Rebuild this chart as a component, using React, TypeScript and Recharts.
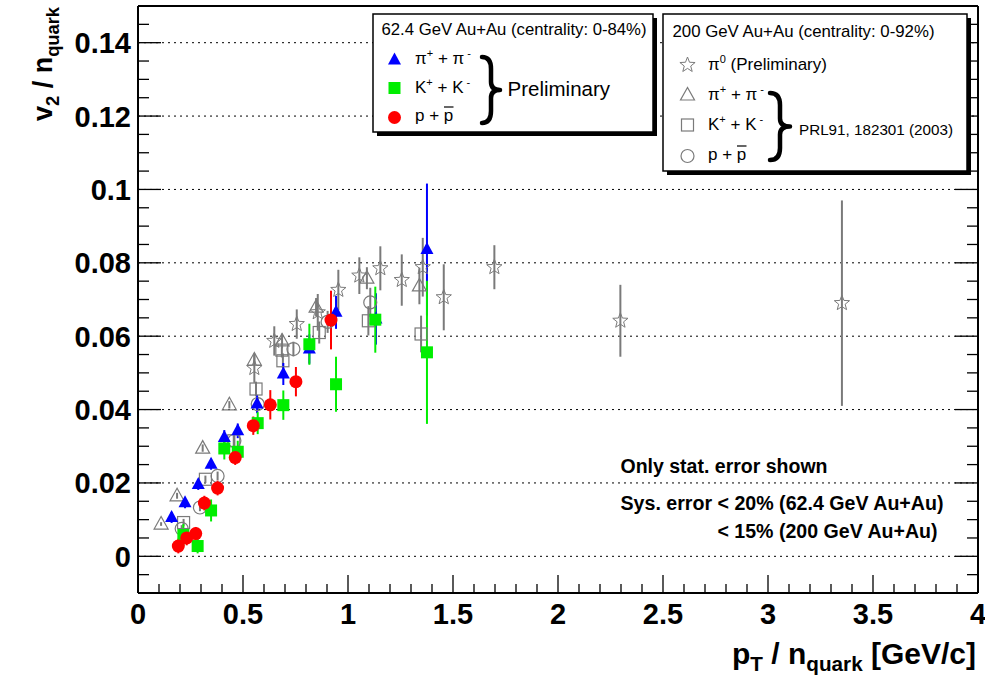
import React from "react";
import {
  ScatterChart, Scatter, XAxis, YAxis, ErrorBar, ReferenceLine,
} from "recharts";

// [pT/nq, v2/nq, stat. error]
const pion62 = [
  [0.16, 0.0106, 0.0015], [0.224, 0.0146, 0.0015], [0.287, 0.0196, 0.0015],
  [0.348, 0.0251, 0.0015], [0.411, 0.0324, 0.002], [0.475, 0.0342, 0.002],
  [0.567, 0.0415, 0.0025], [0.692, 0.0497, 0.003], [0.816, 0.0565, 0.004],
  [0.943, 0.0665, 0.0045], [1.133, 0.0647, 0.007], [1.376, 0.0836, 0.018],
];
const kaon62 = [
  [0.216, 0.0058, 0.003], [0.284, 0.0028, 0.002], [0.348, 0.0125, 0.003],
  [0.411, 0.0294, 0.003], [0.475, 0.0285, 0.003], [0.57, 0.0363, 0.003],
  [0.692, 0.0412, 0.004], [0.816, 0.0578, 0.0056], [0.943, 0.0469, 0.0075],
  [1.13, 0.0645, 0.009], [1.376, 0.0556, 0.0195],
];
const proton62 = [
  [0.192, 0.0028, 0.002], [0.232, 0.005, 0.002], [0.275, 0.0062, 0.0018],
  [0.316, 0.0145, 0.002], [0.379, 0.0186, 0.002], [0.463, 0.0269, 0.002],
  [0.549, 0.0356, 0.0025], [0.63, 0.0413, 0.004], [0.752, 0.0476, 0.004],
  [0.919, 0.0644, 0.008],
];
const pi0200 = [
  [0.554, 0.0513, 0.004], [0.649, 0.0587, 0.004], [0.756, 0.0633, 0.004],
  [0.856, 0.0665, 0.005], [0.954, 0.0726, 0.0055], [1.054, 0.0765, 0.005],
  [1.154, 0.0785, 0.006], [1.256, 0.0753, 0.007], [1.356, 0.0788, 0.008],
  [1.456, 0.0706, 0.009], [1.697, 0.0788, 0.006], [2.297, 0.0642, 0.0098],
  [3.352, 0.069, 0.028],
];
const pion200 = [
  [0.11, 0.0088, 0.0005], [0.186, 0.0165, 0.0008], [0.308, 0.0295, 0.001],
  [0.435, 0.0413, 0.001], [0.554, 0.0535, 0.0015], [0.686, 0.0587, 0.002],
  [0.848, 0.0679, 0.0025], [1.09, 0.0758, 0.003], [1.34, 0.0737, 0.005],
];
const kaon200 = [
  [0.217, 0.0092, 0.001], [0.321, 0.021, 0.001], [0.456, 0.0315, 0.0015],
  [0.562, 0.0456, 0.002], [0.685, 0.0562, 0.002], [0.69, 0.0533, 0.002],
  [0.863, 0.061, 0.003], [1.097, 0.0642, 0.004], [1.348, 0.0606, 0.005],
];
const proton200 = [
  [0.208, 0.0075, 0.001], [0.295, 0.0133, 0.001], [0.379, 0.0219, 0.0012],
  [0.459, 0.0315, 0.0015], [0.57, 0.0415, 0.002], [0.74, 0.0565, 0.002],
  [0.903, 0.0639, 0.003], [1.106, 0.0692, 0.004],
];

const xTicks = [
  0, 0.1, 0.2, 0.3, 0.4, 0.5, 0.6, 0.7, 0.8, 0.9, 1, 1.1, 1.2, 1.3, 1.4, 1.5,
  1.6, 1.7, 1.8, 1.9, 2, 2.1, 2.2, 2.3, 2.4, 2.5, 2.6, 2.7, 2.8, 2.9, 3, 3.1,
  3.2, 3.3, 3.4, 3.5, 3.6, 3.7, 3.8, 3.9, 4,
];
const xLabels = [0, 0.5, 1, 1.5, 2, 2.5, 3, 3.5, 4];
const yTicks = [
  -0.005, 0, 0.005, 0.01, 0.015, 0.02, 0.025, 0.03, 0.035, 0.04, 0.045, 0.05,
  0.055, 0.06, 0.065, 0.07, 0.075, 0.08, 0.085, 0.09, 0.095, 0.1, 0.105, 0.11,
  0.115, 0.12, 0.125, 0.13, 0.135, 0.14, 0.145,
];
const yLabels = [0, 0.02, 0.04, 0.06, 0.08, 0.1, 0.12, 0.14];

const FONT = "'Liberation Sans', Arial, Helvetica, sans-serif";
const GREY = "#7a7a7a";
const BLUE = "#0000ff";
const GREEN = "#00ee00";
const RED = "#ff0000";

const toRows = (arr: number[][]) => arr.map(([x, y, err]) => ({ x, y, err }));
const isLabel = (v: number, list: number[]) => list.some((l) => Math.abs(l - v) < 1e-9);

function Marker({ kind, cx, cy }: { kind: string; cx: number; cy: number }) {
  if (cx == null || cy == null) return null;
  switch (kind) {
    case "triF":
      return <polygon points={`${cx},${cy - 7.5} ${cx - 6.5},${cy + 4.5} ${cx + 6.5},${cy + 4.5}`} fill={BLUE} />;
    case "sqF":
      return <rect x={cx - 6} y={cy - 6} width={12} height={12} fill={GREEN} />;
    case "cirF":
      return <circle cx={cx} cy={cy} r={6.5} fill={RED} />;
    case "triO":
      return <polygon points={`${cx},${cy - 7.5} ${cx - 7},${cy + 5} ${cx + 7},${cy + 5}`} fill="none" stroke={GREY} strokeWidth={1.2} />;
    case "sqO":
      return <rect x={cx - 6} y={cy - 6} width={12} height={12} fill="none" stroke={GREY} strokeWidth={1.2} />;
    case "cirO":
      return <circle cx={cx} cy={cy} r={6.5} fill="none" stroke={GREY} strokeWidth={1.2} />;
    case "star": {
      const pts: string[] = [];
      for (let i = 0; i < 10; i++) {
        const r = i % 2 === 0 ? 8 : 3.4;
        const a = -Math.PI / 2 + (i * Math.PI) / 5;
        pts.push(`${cx + r * Math.cos(a)},${cy + r * Math.sin(a)}`);
      }
      return <polygon points={pts.join(" ")} fill="none" stroke={GREY} strokeWidth={1} />;
    }
  }
  return null;
}

const XTick = (p: any) => {
  const v = p.payload.value;
  const major = isLabel(v, xLabels);
  return (
    <g>
      <line x1={p.x} x2={p.x} y1={p.y} y2={p.y - (major ? 18 : 9)} stroke="#000" strokeWidth={1.3} />
      {major && (
        <text x={p.x} y={p.y + 31} textAnchor="middle" fontFamily={FONT} fontWeight="bold" fontSize={29} fill="#000">
          {String(v)}
        </text>
      )}
    </g>
  );
};

const YTickL = (p: any) => {
  const v = p.payload.value;
  const major = isLabel(v, yLabels);
  return (
    <g>
      <line x1={p.x} x2={p.x + (major ? 23 : 11)} y1={p.y} y2={p.y} stroke="#000" strokeWidth={1.3} />
      {major && (
        <text x={p.x - 7} y={p.y + 10.5} textAnchor="end" fontFamily={FONT} fontWeight="bold" fontSize={29} fill="#000">
          {String(v)}
        </text>
      )}
    </g>
  );
};

const YTickR = (p: any) => {
  const major = isLabel(p.payload.value, yLabels);
  return <line x1={p.x} x2={p.x - (major ? 23 : 11)} y1={p.y} y2={p.y} stroke="#000" strokeWidth={1.3} />;
};

function Brace({ x, y0, y1, w }: { x: number; y0: number; y1: number; w: number }) {
  const m = (y0 + y1) / 2;
  const h = y1 - y0;
  const xm = x + w * 0.5;
  const d = `M ${x} ${y0} Q ${xm} ${y0} ${xm} ${y0 + h * 0.18} L ${xm} ${m - h * 0.12} Q ${xm} ${m} ${x + w} ${m} Q ${xm} ${m} ${xm} ${m + h * 0.12} L ${xm} ${y1 - h * 0.18} Q ${xm} ${y1} ${x} ${y1}`;
  return <path d={d} fill="none" stroke="#000" strokeWidth={4.5} strokeLinecap="round" strokeLinejoin="round" />;
}

const Charge = ({ x, y, base }: { x: number; y: number; base: string }) => (
  <text x={x} y={y} fontFamily={FONT} fontSize={17} fill="#000" style={{ whiteSpace: "pre" }}>
    {base}
    <tspan dy={-7} fontSize={11}>+</tspan>
    <tspan dy={7}>{" + " + base}</tspan>
    <tspan dy={-7} fontSize={11}>{" -"}</tspan>
  </text>
);

const PPbar = ({ x, y }: { x: number; y: number }) => (
  <g>
    <text x={x} y={y} fontFamily={FONT} fontSize={17} fill="#000" style={{ whiteSpace: "pre" }}>
      p + p
    </text>
    <line x1={x + 29} x2={x + 38.5} y1={y - 14} y2={y - 14} stroke="#000" strokeWidth={1.2} />
  </g>
);

function Overlay() {
  return (
    <svg width={985} height={679} style={{ position: "absolute", left: 0, top: 0, pointerEvents: "none" }}>
      {/* y title */}
      <text transform="translate(52,64) rotate(-90)" textAnchor="middle" fontFamily={FONT} fontWeight="bold" fontSize={28} fill="#000" style={{ whiteSpace: "pre" }} textLength={114} lengthAdjust="spacingAndGlyphs">
        v<tspan dy={7} fontSize={19}>2</tspan>
        <tspan dy={-7}>{" / n"}</tspan>
        <tspan dy={7} fontSize={19}>quark</tspan>
      </text>
      {/* x title */}
      <text x={976} y={664} textAnchor="end" fontFamily={FONT} fontWeight="bold" fontSize={29} fill="#000" style={{ whiteSpace: "pre" }} textLength={244} lengthAdjust="spacingAndGlyphs">
        p<tspan dy={7} fontSize={20}>T</tspan>
        <tspan dy={-7}>{" / n"}</tspan>
        <tspan dy={7} fontSize={20}>quark</tspan>
        <tspan dy={-7}>{" [GeV/c]"}</tspan>
      </text>

      {/* 62.4 GeV legend */}
      <rect x={377} y={18} width={280} height={118} fill="#000" />
      <rect x={373} y={14} width={280} height={118} fill="#fff" stroke="#000" strokeWidth={1.5} />
      <text x={381.5} y={34.5} fontFamily={FONT} fontSize={17} fill="#000" textLength={265} lengthAdjust="spacingAndGlyphs">
        62.4 GeV Au+Au (centrality: 0-84%)
      </text>
      <Marker kind="triF" cx={394.5} cy={60} />
      <Marker kind="sqF" cx={394.5} cy={88} />
      <Marker kind="cirF" cx={394.5} cy={117.5} />
      <Charge x={415} y={64} base="π" />
      <Charge x={415} y={93} base="K" />
      <PPbar x={415} y={121} />
      <Brace x={482} y0={57} y1={123} w={18} />
      <text x={507.5} y={96} fontFamily={FONT} fontSize={20.5} fill="#000">Preliminary</text>

      {/* 200 GeV legend */}
      <rect x={667} y={18} width={304} height={157} fill="#000" />
      <rect x={663} y={14} width={304} height={157} fill="#fff" stroke="#000" strokeWidth={1.5} />
      <text x={672.5} y={37} fontFamily={FONT} fontSize={17} fill="#000" textLength={262} lengthAdjust="spacingAndGlyphs">
        200 GeV Au+Au (centrality: 0-92%)
      </text>
      <Marker kind="star" cx={687.5} cy={65} />
      <Marker kind="triO" cx={687.5} cy={95} />
      <Marker kind="sqO" cx={687.5} cy={125} />
      <Marker kind="cirO" cx={687.5} cy={156} />
      <text x={708} y={70} fontFamily={FONT} fontSize={17} fill="#000">
        π<tspan dy={-7} fontSize={11}>0</tspan>
        <tspan dy={7}>{" (Preliminary)"}</tspan>
      </text>
      <Charge x={708} y={100} base="π" />
      <Charge x={708} y={130} base="K" />
      <PPbar x={708} y={160} />
      <Brace x={770} y0={93} y1={160} w={20} />
      <text x={799} y={134.5} fontFamily={FONT} fontSize={15.5} fill="#000" textLength={154} lengthAdjust="spacingAndGlyphs">
        PRL91, 182301 (2003)
      </text>

      {/* notes */}
      <text x={620.5} y={473} fontFamily={FONT} fontWeight="bold" fontSize={19.5} fill="#000" textLength={207} lengthAdjust="spacingAndGlyphs">
        Only stat. error shown
      </text>
      <text x={620.5} y={510} fontFamily={FONT} fontWeight="bold" fontSize={19.5} fill="#000" textLength={323} lengthAdjust="spacingAndGlyphs">
        Sys. error &lt; 20% (62.4 GeV Au+Au)
      </text>
      <text x={717.5} y={538} fontFamily={FONT} fontWeight="bold" fontSize={19.5} fill="#000" textLength={220} lengthAdjust="spacingAndGlyphs">
        &lt; 15% (200 GeV Au+Au)
      </text>
    </svg>
  );
}

const series = [
  { name: "pi0 200", data: pi0200, kind: "star", color: GREY },
  { name: "pi 200", data: pion200, kind: "triO", color: GREY },
  { name: "K 200", data: kaon200, kind: "sqO", color: GREY },
  { name: "p 200", data: proton200, kind: "cirO", color: GREY },
  { name: "pi 62.4", data: pion62, kind: "triF", color: BLUE },
  { name: "K 62.4", data: kaon62, kind: "sqF", color: GREEN },
  { name: "p 62.4", data: proton62, kind: "cirF", color: RED },
];

const frame = { stroke: "#000", strokeWidth: 2 };

export default function App() {
  return (
    <div style={{ position: "absolute", left: 0, top: 0, width: 985, height: 679, background: "#fff" }}>
      <ScatterChart width={985} height={679} margin={{ top: 4, right: 5, bottom: 46, left: 38 }}>
        <XAxis
          xAxisId="b" type="number" dataKey="x" domain={[0, 4]} ticks={xTicks} interval={0}
          tickSize={0} tickMargin={0} tickLine={false} axisLine={frame} height={40}
          tick={(p: any) => <XTick {...p} />} allowDataOverflow
        />
        <XAxis
          xAxisId="t" orientation="top" type="number" domain={[0, 4]} tick={false}
          tickLine={false} axisLine={frame} height={2}
        />
        <YAxis
          yAxisId="l" type="number" dataKey="y" domain={[-0.01, 0.15]} ticks={yTicks} interval={0}
          tickSize={0} tickMargin={0} tickLine={false} axisLine={frame} width={100}
          tick={(p: any) => <YTickL {...p} />} allowDataOverflow
        />
        <YAxis
          yAxisId="r" orientation="right" type="number" domain={[-0.01, 0.15]} ticks={yTicks} interval={0}
          tickSize={0} tickMargin={0} tickLine={false} axisLine={frame} width={2}
          tick={(p: any) => <YTickR {...p} />} allowDataOverflow
        />
        {yLabels.map((v) => (
          <ReferenceLine key={v} xAxisId="b" yAxisId="l" y={v} stroke="#000" strokeWidth={1} strokeDasharray="2 4" />
        ))}
        {series.map((s) => (
          <Scatter
            key={s.name}
            name={s.name}
            xAxisId="b"
            yAxisId="l"
            data={toRows(s.data)}
            isAnimationActive={false}
            shape={(p: any) => <Marker kind={s.kind} cx={p.cx} cy={p.cy} />}
          >
            <ErrorBar dataKey="err" direction="y" width={0} stroke={s.color} strokeWidth={2} isAnimationActive={false} />
          </Scatter>
        ))}
      </ScatterChart>
      <Overlay />
    </div>
  );
}
